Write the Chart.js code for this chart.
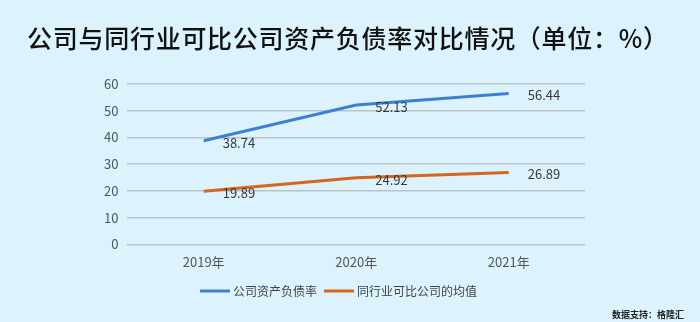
<!DOCTYPE html>
<html>
<head>
<meta charset="utf-8">
<script src="https://cdn.jsdelivr.net/npm/chart.js@4"></script>
<style>
  html, body { margin: 0; padding: 0; background: #dcf3fd; }
  #wrap { width: 700px; height: 322px; position: relative; }
</style>
</head>
<body>
<div id="wrap"><canvas id="chart"></canvas></div>
<script>
const years = ['2019年', '2020年', '2021年'];
const companyRatio = [38.74, 52.13, 56.44];
const peerAverage = [19.89, 24.92, 26.89];
const seriesNames = ['公司资产负债率', '同行业可比公司的均值'];
const titleText = '公司与同行业可比公司资产负债率对比情况（单位：%）';

const FONT = '"Noto Sans CJK SC", "Noto Sans", sans-serif';

// heading across the top, stretched to the full width
const heading = {
  id: 'heading',
  afterDraw(chart) {
    const ctx = chart.ctx;
    ctx.save();
    ctx.font = '500 25px ' + FONT;
    ctx.fillStyle = '#111';
    ctx.textBaseline = 'middle';
    ctx.textAlign = 'left';
    const left = 27, right = 668;
    const chars = Array.from(titleText);
    const widths = chars.map(c => ctx.measureText(c).width);
    const total = widths.reduce((a, b) => a + b, 0);
    const gap = (right - left - total) / (chars.length - 1);
    let x = left;
    chars.forEach((c, i) => {
      ctx.fillText(c, x, 38);
      x += widths[i] + gap;
    });
    ctx.restore();
  }
};

// legend row under the axis: short line + series name
const lineLegend = {
  id: 'lineLegend',
  afterDraw(chart) {
    const ctx = chart.ctx;
    ctx.save();
    ctx.font = '12px ' + FONT;
    ctx.textBaseline = 'middle';
    ctx.textAlign = 'left';
    let x = 200;
    const y = 291;
    chart.data.datasets.forEach(ds => {
      ctx.fillStyle = ds.borderColor;
      ctx.fillRect(x, y - 1.5, 30, 3);
      x += 33;
      ctx.fillStyle = '#444';
      ctx.fillText(ds.label, x, y);
      x += ctx.measureText(ds.label).width + 7;
    });
    ctx.restore();
  }
};

// value labels to the right of each point
const valueLabels = {
  id: 'valueLabels',
  afterDatasetsDraw(chart) {
    const ctx = chart.ctx;
    ctx.save();
    ctx.font = '13px ' + FONT;
    ctx.fillStyle = '#3a3a3a';
    ctx.textAlign = 'left';
    ctx.textBaseline = 'middle';
    chart.data.datasets.forEach((ds, i) => {
      chart.getDatasetMeta(i).data.forEach((pt, j) => {
        ctx.fillText(ds.data[j].toFixed(2), pt.x + 19, pt.y + 2);
      });
    });
    ctx.restore();
  }
};

// source note in the corner
const sourceNote = {
  id: 'sourceNote',
  afterDraw(chart) {
    const ctx = chart.ctx;
    ctx.save();
    ctx.font = 'bold 9px ' + FONT;
    ctx.fillStyle = '#222';
    ctx.textAlign = 'right';
    ctx.textBaseline = 'middle';
    ctx.fillText('数据支持：格隆汇', 684, 315);
    ctx.restore();
  }
};

const ctx = document.getElementById('chart').getContext('2d');
new Chart(ctx, {
  type: 'line',
  data: {
    labels: years,
    datasets: [{
      label: seriesNames[0],
      data: companyRatio,
      borderColor: '#3d80d2',
      backgroundColor: '#3d80d2',
      borderWidth: 3,
      pointRadius: 0,
      tension: 0
    }, {
      label: seriesNames[1],
      data: peerAverage,
      borderColor: '#d4661e',
      backgroundColor: '#d4661e',
      borderWidth: 3,
      pointRadius: 0,
      tension: 0
    }]
  },
  options: {
    responsive: true,
    maintainAspectRatio: false,
    animation: false,
    layout: { padding: { left: 95, right: 115, top: 84, bottom: 50 } },
    plugins: {
      title: { display: false },
      legend: { display: false },
      tooltip: { enabled: false }
    },
    scales: {
      x: {
        offset: true,
        grid: { display: false },
        border: { display: false },
        ticks: { color: '#555', font: { family: FONT, size: 13 }, padding: 2 }
      },
      y: {
        min: 0,
        max: 60,
        ticks: { stepSize: 10, color: '#555', font: { family: FONT, size: 13 }, padding: 9 },
        grid: { color: '#b9c3c7', lineWidth: 1.5, drawTicks: false },
        border: { display: false }
      }
    }
  },
  plugins: [heading, lineLegend, valueLabels, sourceNote]
});
</script>
</body>
</html>
